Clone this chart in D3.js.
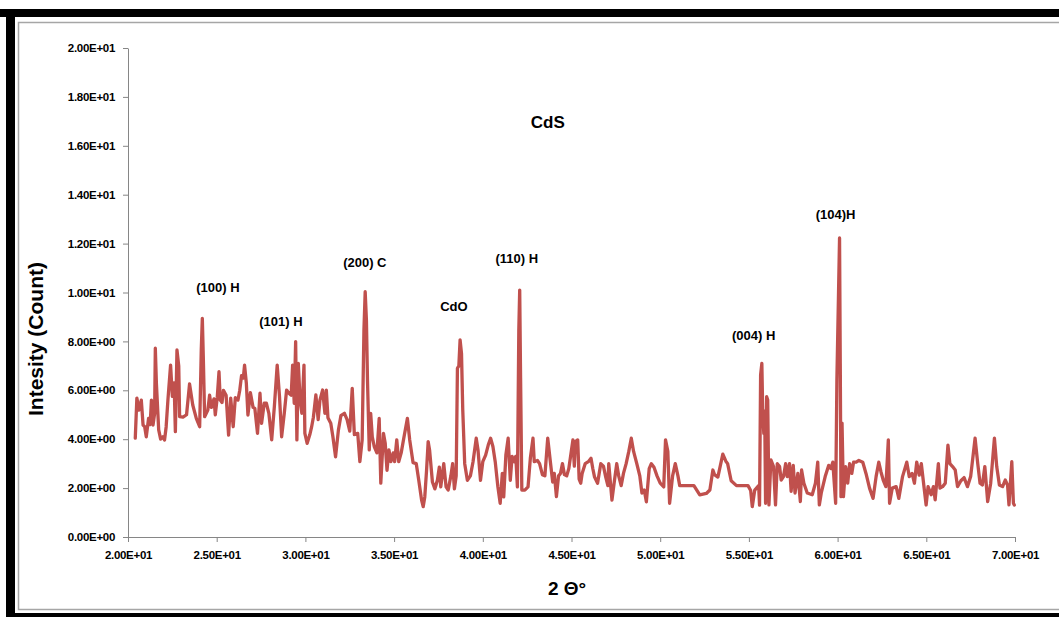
<!DOCTYPE html>
<html>
<head>
<meta charset="utf-8">
<script src="https://cdnjs.cloudflare.com/ajax/libs/d3/7.8.5/d3.min.js"></script>
<style>
  body { margin: 0; background: #fff; }
  svg { display: block; font-family: "Liberation Sans", Arial, sans-serif; }
  .axis path, .axis line { stroke: #868686; }
  .axis text { font-size: 11.5px; font-weight: bold; fill: #000; letter-spacing: -0.3px; }
  .peak { font-size: 13px; font-weight: bold; fill: #000; }
</style>
</head>
<body>
<script>
// XRD pattern of CdS film: [2 theta, intensity]
var pattern = [
  [20.41,4.04],[20.5,5.68],[20.62,5.19],[20.75,5.6],[20.85,4.58],[20.94,4.51],[21.03,4.1],[21.16,4.85],[21.25,4.6],[21.32,5.6],
  [21.41,4.58],[21.5,5.05],[21.54,7.72],[21.6,6.3],[21.73,4.38],[21.84,4.0],[21.97,4.1],[22.06,3.97],[22.15,4.5],[22.25,5.6],
  [22.4,7.03],[22.5,5.75],[22.6,6.3],[22.67,4.31],[22.76,7.65],[22.86,7.0],[22.91,4.92],[23.1,4.9],[23.3,5.0],[23.47,6.26],
  [23.65,5.4],[23.85,4.85],[24.04,4.51],[24.13,7.65],[24.19,8.94],[24.25,7.2],[24.32,4.92],[24.5,5.19],[24.6,5.8],[24.7,5.3],
  [24.85,5.65],[24.92,5.0],[25.03,5.7],[25.13,6.76],[25.2,5.6],[25.3,5.5],[25.38,6.0],[25.53,5.8],[25.67,4.17],[25.79,5.68],
  [25.93,4.51],[26.05,5.7],[26.2,5.6],[26.3,6.0],[26.4,6.6],[26.5,6.5],[26.57,7.03],[26.67,6.3],[26.76,4.99],[26.9,5.9],
  [27.05,5.3],[27.15,5.26],[27.3,4.24],[27.44,5.88],[27.53,4.65],[27.68,5.47],[27.8,5.47],[27.94,5.06],[28.1,3.97],[28.25,5.33],
  [28.41,7.03],[28.54,5.75],[28.66,4.1],[28.81,5.06],[28.94,6.01],[29.07,5.88],[29.2,5.8],[29.28,7.03],[29.37,5.47],[29.45,7.99],
  [29.52,3.97],[29.6,7.1],[29.7,5.6],[29.8,5.06],[29.92,7.03],[29.97,4.24],[30.1,3.83],[30.25,4.19],[30.35,4.5],[30.45,4.9],
  [30.59,5.81],[30.72,4.8],[30.82,5.6],[30.97,6.01],[31.1,5.06],[31.18,6.01],[31.27,4.88],[31.43,4.65],[31.55,4.1],[31.7,3.28],
  [31.86,4.37],[32.0,4.96],[32.2,5.06],[32.35,4.8],[32.5,4.33],[32.64,6.08],[32.76,4.19],[32.95,4.24],[33.07,3.08],[33.2,3.97],
  [33.3,8.47],[33.37,10.03],[33.44,8.86],[33.5,6.4],[33.6,3.56],[33.68,5.06],[33.77,4.1],[33.88,3.7],[34.03,3.44],[34.16,4.85],
  [34.25,2.2],[34.4,4.24],[34.5,3.83],[34.6,2.73],[34.71,3.56],[34.82,3.08],[34.95,3.44],[35.03,3.08],[35.15,3.97],[35.26,3.08],
  [35.4,3.44],[35.56,4.1],[35.75,4.85],[35.88,3.97],[36.07,3.04],[36.25,3.0],[36.39,2.32],[36.55,1.51],[36.64,1.24],[36.73,1.64],
  [36.83,2.73],[36.92,3.9],[37.0,3.56],[37.16,2.25],[37.3,1.97],[37.44,2.32],[37.55,2.86],[37.63,2.05],[37.8,3.0],[37.93,2.05],
  [38.05,1.92],[38.2,2.5],[38.3,3.0],[38.4,1.97],[38.5,2.5],[38.57,6.9],[38.65,7.0],[38.72,8.06],[38.8,7.5],[38.87,5.2],
  [38.98,3.0],[39.13,2.32],[39.3,2.5],[39.45,3.08],[39.63,4.04],[39.73,3.56],[39.87,2.32],[40.0,3.08],[40.16,3.35],[40.31,3.77],
  [40.44,4.04],[40.57,3.7],[40.7,3.08],[40.85,2.05],[40.98,1.38],[41.1,2.6],[41.18,1.64],[41.3,3.35],[41.43,4.04],[41.55,2.32],
  [41.65,3.3],[41.77,3.08],[41.86,3.3],[41.95,2.05],[42.03,8.47],[42.08,10.1],[42.13,6.5],[42.2,1.92],[42.37,1.92],[42.55,2.05],
  [42.68,3.22],[42.83,4.04],[42.9,3.08],[43.08,3.13],[43.2,3.0],[43.36,2.55],[43.5,2.5],[43.66,4.04],[43.8,3.13],[43.94,2.25],
  [44.03,2.6],[44.15,1.65],[44.27,2.5],[44.38,2.6],[44.49,3.0],[44.6,2.55],[44.73,2.5],[44.85,2.8],[45.08,3.97],[45.16,2.9],
  [45.22,3.9],[45.35,3.97],[45.43,2.37],[45.52,2.2],[45.6,2.6],[45.77,3.0],[45.95,3.08],[46.1,3.22],[46.2,2.8],[46.3,2.45],
  [46.47,2.2],[46.65,3.0],[46.8,2.9],[46.93,2.45],[47.05,2.1],[47.1,3.0],[47.28,1.51],[47.42,2.3],[47.55,3.0],[47.66,2.5],
  [47.8,2.1],[47.93,2.6],[48.08,3.0],[48.23,3.5],[48.37,4.04],[48.5,3.5],[48.68,3.0],[48.85,2.5],[48.97,1.8],[49.1,1.92],
  [49.22,1.44],[49.38,2.8],[49.5,3.0],[49.65,2.85],[49.82,2.5],[50.0,2.2],[50.2,2.05],[50.3,3.97],[50.43,3.5],[50.53,1.38],
  [50.7,2.5],[50.85,3.0],[51.0,2.5],[51.1,2.1],[51.5,2.1],[51.9,2.1],[52.23,1.72],[52.6,1.78],[52.8,1.92],[52.97,2.74],
  [53.06,2.55],[53.25,2.45],[53.53,3.39],[53.7,3.1],[53.8,3.0],[54.0,2.3],[54.3,2.1],[54.95,2.1],[55.1,1.9],[55.19,1.24],
  [55.33,1.92],[55.55,2.1],[55.6,1.3],[55.66,6.63],[55.73,7.1],[55.78,5.06],[55.84,4.24],[55.89,5.15],[55.94,1.38],[56.0,5.74],
  [56.06,5.6],[56.13,1.31],[56.24,3.15],[56.39,2.88],[56.5,1.31],[56.6,3.0],[56.73,2.88],[56.82,2.33],[56.95,2.47],[57.07,3.0],
  [57.16,2.47],[57.29,3.0],[57.38,1.87],[57.5,2.93],[57.6,1.8],[57.76,2.6],[57.9,1.45],[57.97,2.74],[58.1,2.2],[58.29,1.8],
  [58.57,1.73],[58.75,2.2],[58.88,3.06],[58.97,1.31],[59.08,1.8],[59.3,2.47],[59.5,2.93],[59.62,2.8],[59.73,3.06],[59.89,1.38],
  [59.96,6.42],[60.05,9.9],[60.11,12.23],[60.15,7.1],[60.19,1.65],[60.25,4.66],[60.33,1.65],[60.45,2.88],[60.57,2.2],[60.68,3.0],
  [60.8,2.6],[60.9,3.06],[61.05,3.06],[61.2,3.13],[61.42,3.06],[61.6,2.6],[61.8,2.0],[62.0,1.58],[62.17,2.47],[62.32,3.06],
  [62.45,2.65],[62.57,2.33],[62.72,2.06],[62.86,3.97],[62.93,1.38],[63.08,2.0],[63.3,2.06],[63.45,1.58],[63.66,2.47],[63.9,3.06],
  [64.04,2.47],[64.2,2.6],[64.33,2.2],[64.46,3.06],[64.6,2.53],[64.72,3.0],[64.83,2.3],[64.99,1.31],[65.1,2.06],[65.27,1.73],
  [65.4,2.06],[65.5,1.52],[65.68,3.0],[65.77,2.0],[65.92,2.06],[66.07,2.2],[66.22,3.76],[66.33,3.0],[66.48,2.88],[66.63,2.74],
  [66.76,2.06],[66.95,2.3],[67.13,2.43],[67.32,2.06],[67.5,2.47],[67.75,4.04],[67.9,3.0],[68.03,2.2],[68.16,2.13],[68.3,2.88],
  [68.46,1.45],[68.63,2.2],[68.84,4.04],[68.97,2.88],[69.12,2.13],[69.3,2.06],[69.45,2.33],[69.58,2.13],[69.66,1.31],[69.82,3.08],
  [69.91,1.38],[69.96,1.31]
];

// tick values and their labels
var xTicks = [20, 25, 30, 35, 40, 45, 50, 55, 60, 65, 70];
var xTickLabels = ["2.00E+01","2.50E+01","3.00E+01","3.50E+01","4.00E+01","4.50E+01","5.00E+01","5.50E+01","6.00E+01","6.50E+01","7.00E+01"];
var yTicks = [0, 2, 4, 6, 8, 10, 12, 14, 16, 18, 20];
var yTickLabels = ["0.00E+00","2.00E+00","4.00E+00","6.00E+00","8.00E+00","1.00E+01","1.20E+01","1.40E+01","1.60E+01","1.80E+01","2.00E+01"];

// peak labels, placed in data coordinates
var peakNames = ["(100) H", "(101) H", "(200) C", "CdO", "(110) H", "(004) H", "(104)H"];
var peakX = [25.07, 28.62, 33.35, 38.37, 41.92, 55.27, 59.89];
var peakY = [10.22, 8.83, 11.21, 9.41, 11.41, 8.26, 13.21];

var w = 1059, h = 617;

var svg = d3.select("body").append("svg")
    .attr("width", w)
    .attr("height", h);

// frame
svg.append("rect").attr("x", 0).attr("y", 0).attr("width", w).attr("height", h).attr("fill", "#fff");
svg.append("rect").attr("x", 18.5).attr("y", 22.5).attr("width", w).attr("height", 587)
    .attr("fill", "none").attr("stroke", "#a6a6a6").attr("stroke-width", 1.5);
svg.append("rect").attr("x", 0).attr("y", 9).attr("width", w).attr("height", 8).attr("fill", "#000");
svg.append("rect").attr("x", 6).attr("y", 9).attr("width", 9).attr("height", h - 9).attr("fill", "#000");
svg.append("rect").attr("x", 6).attr("y", 613).attr("width", w).attr("height", 4).attr("fill", "#000");

// scales
var x = d3.scaleLinear().domain([20, 70]).range([128, 1015]);
var y = d3.scaleLinear().domain([0, 20]).range([537, 48]);

svg.append("g")
    .attr("class", "axis")
    .attr("transform", "translate(" + x.range()[0] + ",0)")
    .call(d3.axisLeft(y).tickValues(yTicks).tickSize(5).tickSizeOuter(0).tickPadding(8)
        .tickFormat(function(d, i) { return yTickLabels[i]; }));

svg.append("g")
    .attr("class", "axis")
    .attr("transform", "translate(0," + y(0) + ")")
    .call(d3.axisBottom(x).tickValues(xTicks).tickSize(5).tickSizeOuter(0).tickPadding(9)
        .tickFormat(function(d, i) { return xTickLabels[i]; }));

// pattern line
var line = d3.line()
    .x(function(d) { return x(d[0]); })
    .y(function(d) { return y(d[1]); });

svg.append("path")
    .datum(pattern)
    .attr("d", line)
    .attr("fill", "none")
    .attr("stroke", "#c0504d")
    .attr("stroke-width", 3.3)
    .attr("stroke-linejoin", "round")
    .attr("stroke-linecap", "round");

// peak labels
svg.selectAll(".peak")
    .data(peakNames)
  .enter().append("text")
    .attr("class", "peak")
    .attr("x", function(d, i) { return x(peakX[i]); })
    .attr("y", function(d, i) { return y(peakY[i]); })
    .attr("dy", "0.35em")
    .attr("text-anchor", "middle")
    .text(function(d) { return d; });

// titles
svg.append("text")
    .attr("x", x(43.66)).attr("y", y(16.97)).attr("dy", "0.35em")
    .attr("text-anchor", "middle")
    .style("font-size", "17px").style("font-weight", "bold")
    .text("CdS");

svg.append("text")
    .attr("x", 567).attr("y", 588).attr("dy", "0.35em")
    .attr("text-anchor", "middle")
    .style("font-size", "19px").style("font-weight", "bold")
    .text("2 \u0398\u00b0");

svg.append("text")
    .attr("transform", "translate(36,339) rotate(-90)")
    .attr("dy", "0.35em")
    .attr("text-anchor", "middle")
    .style("font-size", "21px").style("font-weight", "bold")
    .text("Intesity (Count)");
</script>
</body>
</html>
